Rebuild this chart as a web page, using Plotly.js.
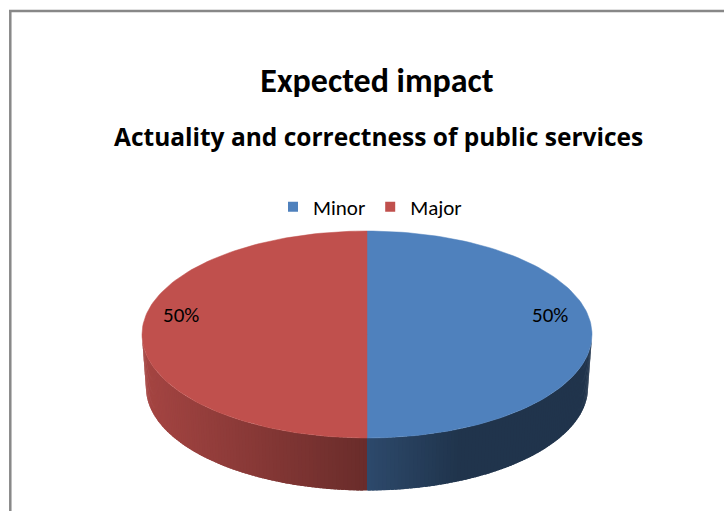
<!DOCTYPE html>
<html>
<head>
<meta charset="utf-8">
<script src="https://cdn.plot.ly/plotly-3.0.1.min.js"></script>
<style>html,body{margin:0;padding:0;background:#fff;}#chart{width:724px;height:511px;}</style>
</head>
<body>
<div id="chart"></div>
<script>
// ---- data ----
const chartTitle = 'Expected impact';
const chartSubtitle = 'Actuality and correctness of public services';
const labels = ['Minor', 'Major'];
const values = [50, 50];
const colors = ['#4F81BD', '#C0504D'];

// ---- geometry (layout constants, pixel space of the axes) ----
const W = 724, H = 511;
const cx = 367, cy = 334.5, a = 225, b = 103.5;      // top face
const cy2 = 387.5, a2 = 221, b2 = 103;               // bottom outline
const FONT = 'Carlito, Calibri, Lato, sans-serif';
const FONT_SUB = '"Open Sans", Carlito, sans-serif';

function topPt(th) { return [cx + a * Math.sin(th), cy - b * Math.cos(th)]; }
function botPt(th) { return [cx + a2 * Math.sin(th), cy2 - b2 * Math.cos(th)]; }
function hex2rgb(h) { return [parseInt(h.substr(1,2),16), parseInt(h.substr(3,2),16), parseInt(h.substr(5,2),16)]; }
function shade(hex, f) { const c = hex2rgb(hex).map(v => Math.round(v * f)); return 'rgb(' + c.join(',') + ')'; }
function lightAt(x) {
  if (x <= cx) { const t = (x - (cx - a)) / a; return 0.86 - 0.31 * t; }
  const t = (x - cx) / a; return 0.57 - 0.17 * Math.min(t / 0.42, 1);
}

const total = values.reduce((s, v) => s + v, 0);
const traces = [];

// legend entries
labels.forEach((lab, i) => {
  traces.push({type: 'scatter', mode: 'markers', x: [null], y: [null], name: lab,
    marker: {symbol: 'square', size: 10, color: colors[i]}, showlegend: true, hoverinfo: 'skip'});
});

// slices
let start = 0;
const sides = [], tops = [], ann = [];
values.forEach((v, i) => {
  const sweep = v / total * 2 * Math.PI;
  const th0 = start, th1 = start + sweep;
  // side face (visible front part: angles between 90deg and 270deg)
  const lo = Math.max(th0, Math.PI / 2), hi = Math.min(th1, 3 * Math.PI / 2);
  if (hi > lo) {
    const N = 90;
    const step = (hi - lo) / N;
    for (let k = 0; k < N; k++) {
      const ta = lo + step * k, tb = Math.min(hi, lo + step * (k + 1.8));
      const xs = [], ys = [];
      const M = 4;
      for (let j = 0; j <= M; j++) { const p = topPt(ta + (tb - ta) * j / M); xs.push(p[0]); ys.push(p[1]); }
      for (let j = M; j >= 0; j--) { const p = botPt(ta + (tb - ta) * j / M); xs.push(p[0]); ys.push(p[1]); }
      xs.push(xs[0]); ys.push(ys[0]);
      const xm = topPt(ta + step / 2)[0];
      const col = shade(colors[i], lightAt(xm));
      sides.push({type: 'scatter', mode: 'lines', x: xs, y: ys, fill: 'toself', fillcolor: col,
        line: {width: 0}, showlegend: false, hoverinfo: 'skip'});
    }
  }
  // top face
  const xs = [cx], ys = [cy];
  const S = 120;
  for (let j = 0; j <= S; j++) { const p = topPt(th0 + sweep * j / S); xs.push(p[0]); ys.push(p[1]); }
  xs.push(cx); ys.push(cy);
  tops.push({type: 'scatter', mode: 'lines', x: xs, y: ys, fill: 'toself', fillcolor: colors[i],
    line: {color: colors[i], width: 0.5}, showlegend: false, hoverinfo: 'skip'});
  // data label
  const mid = th0 + sweep / 2;
  ann.push({x: cx + 0.82 * a * Math.sin(mid) - 2, y: cy - 0.82 * b * Math.cos(mid) - 20,
    xref: 'x', yref: 'y', text: Math.round(v / total * 100) + '%', showarrow: false,
    font: {family: FONT, size: 21, color: '#000'}, xanchor: 'center', yanchor: 'middle'});
  start = th1;
});

ann.push({x: 378 / W, y: 1 - 137 / H, xref: 'paper', yref: 'paper', text: '<b>' + chartSubtitle + '</b>',
  showarrow: false, font: {family: FONT_SUB, size: 24.5, color: '#000'}, xanchor: 'center', yanchor: 'middle'});

const layout = {
  width: W, height: H,
  margin: {l: 0, r: 0, t: 0, b: 0},
  paper_bgcolor: '#fff', plot_bgcolor: '#fff',
  title: {text: '<b>' + chartTitle + '</b>', x: 377 / W, xanchor: 'center', y: 1 - 80 / H, yanchor: 'middle',
    xref: 'paper', yref: 'container', font: {family: FONT, size: 34, color: '#000'}},
  xaxis: {range: [0, W], visible: false, fixedrange: true},
  yaxis: {range: [H, 0], visible: false, fixedrange: true},
  showlegend: true,
  legend: {orientation: 'h', x: 370 / W, xanchor: 'center', y: 1 - 207 / H, yanchor: 'middle',
    font: {family: FONT, size: 21, color: '#000'}, bgcolor: 'rgba(0,0,0,0)', itemwidth: 30, tracegroupgap: 0},
  annotations: ann,
  shapes: [
    {type: 'line', xref: 'paper', yref: 'paper', x0: 10.3 / W, x1: 10.3 / W, y0: 1 - 10 / H, y1: 0,
      line: {color: '#888888', width: 2.5}},
    {type: 'line', xref: 'paper', yref: 'paper', x0: 9 / W, x1: 1, y0: 1 - 11 / H, y1: 1 - 11 / H,
      line: {color: '#888888', width: 2.5}}
  ],
  hovermode: false
};

Plotly.newPlot('chart', traces.concat(sides, tops), layout, {displayModeBar: false, staticPlot: true});
</script>
</body>
</html>
